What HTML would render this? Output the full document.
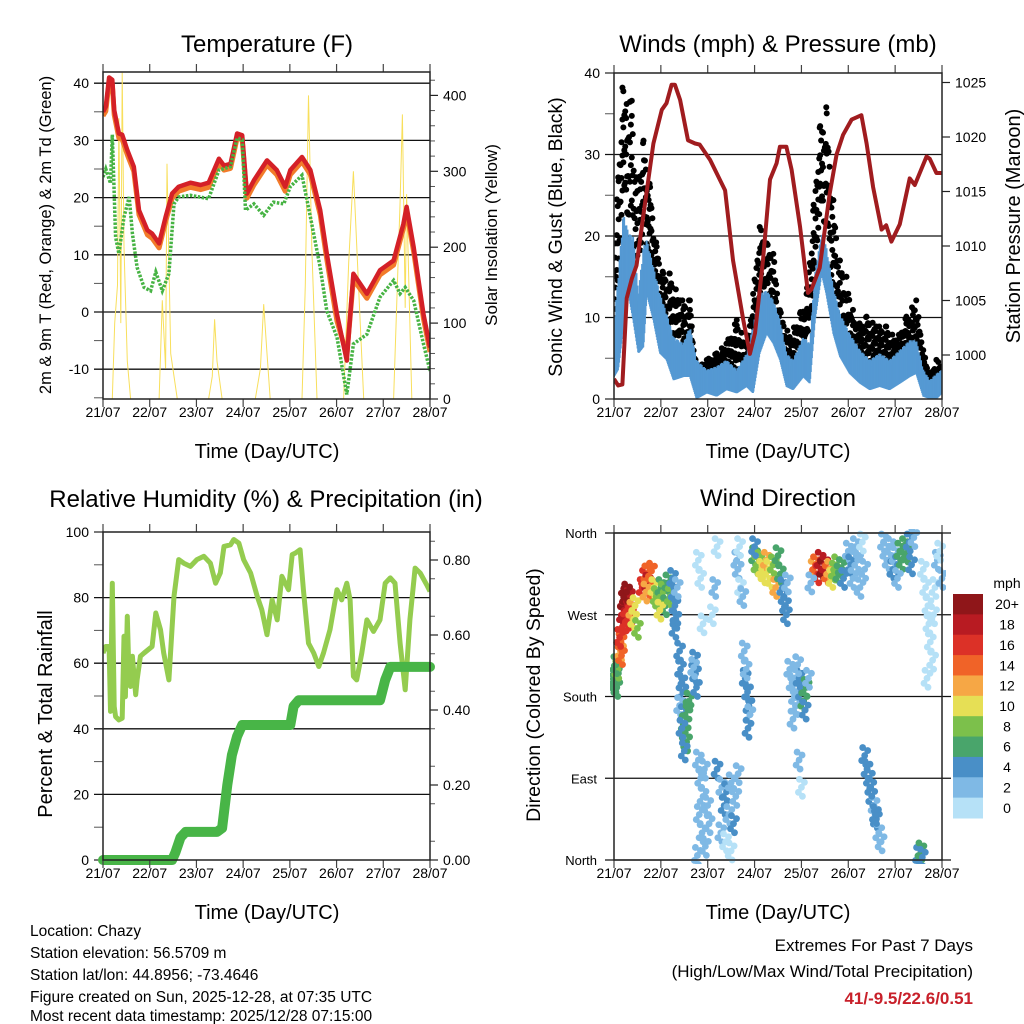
<!DOCTYPE html>
<html><head><meta charset="utf-8"><style>
body{margin:0;background:#fff;}
svg{display:block;font-family:"Liberation Sans",Arial,sans-serif;}
</style></head><body>
<svg id="s" width="1024" height="1024" viewBox="0 0 1024 1024" xmlns="http://www.w3.org/2000/svg">
<defs>
<clipPath id="c1"><rect x="103" y="72" width="327" height="327"/></clipPath>
<clipPath id="c2"><rect x="614" y="73" width="328" height="326"/></clipPath>
<clipPath id="c3"><rect x="103" y="532" width="327" height="328"/></clipPath>
<clipPath id="c4"><rect x="610" y="529" width="336" height="335"/></clipPath>
</defs>
<g id="g1"></g>
<g id="g2"></g>
<g id="g3"></g>
<g id="g4"></g>
<g id="gt">
<text x="267" y="52" font-size="24" text-anchor="middle">Temperature (F)</text>
<text x="778" y="52" font-size="24" text-anchor="middle">Winds (mph) &amp; Pressure (mb)</text>
<text x="266" y="507" font-size="24" text-anchor="middle">Relative Humidity (%) &amp; Precipitation (in)</text>
<text x="778" y="506" font-size="24" text-anchor="middle">Wind Direction</text>
<text transform="translate(51,235) rotate(-90)" font-size="16.5" text-anchor="middle">2m &amp; 9m T (Red, Orange) &amp; 2m Td (Green)</text>
<text transform="translate(497,235) rotate(-90)" font-size="17" text-anchor="middle">Solar Insolation (Yellow)</text>
<text transform="translate(562,237) rotate(-90)" font-size="19.5" text-anchor="middle">Sonic Wind &amp; Gust (Blue, Black)</text>
<text transform="translate(1020,226) rotate(-90)" font-size="20" text-anchor="middle">Station Pressure (Maroon)</text>
<text transform="translate(52,714) rotate(-90)" font-size="20" text-anchor="middle">Percent &amp; Total Rainfall</text>
<text transform="translate(540,695) rotate(-90)" font-size="19.5" text-anchor="middle">Direction (Colored By Speed)</text>
<text x="267" y="458" font-size="20" text-anchor="middle">Time (Day/UTC)</text>
<text x="778" y="458" font-size="20" text-anchor="middle">Time (Day/UTC)</text>
<text x="267" y="919" font-size="20" text-anchor="middle">Time (Day/UTC)</text>
<text x="778" y="919" font-size="20" text-anchor="middle">Time (Day/UTC)</text>
<g font-size="15.5">
<text x="30" y="936">Location: Chazy</text>
<text x="30" y="958">Station elevation: 56.5709 m</text>
<text x="30" y="980">Station lat/lon: 44.8956; -73.4646</text>
<text x="30" y="1002">Figure created on Sun, 2025-12-28, at 07:35 UTC</text>
<text x="30" y="1024" dy="-3">Most recent data timestamp: 2025/12/28 07:15:00</text>
</g>
<text x="973" y="951" font-size="17" text-anchor="end">Extremes For Past 7 Days</text>
<text x="973" y="977" font-size="17" text-anchor="end">(High/Low/Max Wind/Total Precipitation)</text>
<text x="973" y="1004" font-size="17" font-weight="bold" fill="#c8202a" text-anchor="end">41/-9.5/22.6/0.51</text>
</g>
</svg>
<script>
// ---------- Temperature panel data ----------
const tempT=[0,.06,.13,.2,.24,.34,.41,.52,.66,.77,.95,1.05,1.2,1.34,1.48,1.62,1.87,2.09,2.26,2.48,2.59,2.73,2.87,2.98,3.08,3.23,3.51,3.72,3.9,4.01,4.26,4.44,4.65,4.79,5.01,5.22,5.36,5.65,5.93,6.22,6.43,6.5,6.65,6.86,7];
const temp2m=[35,35.9,41,40.6,35.3,31.2,31,28.3,25.4,17.8,14.3,13.7,12,16.6,20.7,21.9,22.6,22.2,22.6,26.8,25.6,25.9,31.2,30.9,20.7,23,26.5,24.8,21.9,24.8,27.1,24.8,17.8,10.2,-0.4,-8.5,6.7,3.2,7.3,9,15.4,18.4,11.3,-0.4,-6.2];
const temp9m=[34.3,35.1,40.2,39.8,34.5,30.4,30.2,27.5,24.6,17,13.5,12.9,11.2,15.8,19.9,21.1,21.8,21.4,21.8,26,24.8,25.1,30.4,30.1,19.9,22.2,25.7,24,21.1,24,26.3,24,17,9.2,-1.6,-7.5,5.7,2.4,6.5,8.2,14.6,17.6,10.5,-1.2,-7];
const dewT=[0,.06,.16,.2,.24,.27,.34,.45,.56,.63,.73,.88,1.02,1.13,1.27,1.41,1.52,1.62,1.87,2.26,2.48,2.73,2.87,2.98,3.05,3.23,3.44,3.65,3.87,4.01,4.26,4.44,4.65,4.79,5.01,5.22,5.36,5.65,5.93,6.22,6.36,6.47,6.65,6.86,7];
const dewV=[23.6,25,22.5,31,20.7,13.1,10.2,16.6,20.1,13.7,7.8,4.3,3.7,7,3.7,6.7,18.9,20.1,20.4,19.8,24.8,25.4,30.4,30.1,17.8,18.9,16.9,19.2,18.9,21.9,23.9,16.6,7.8,0.2,-4.4,-14.4,-5.6,-3.9,2.6,5.5,3.2,4.3,2,-5.6,-10.3];
const solarT=[0,.2,.25,.31,.34,.38,.41,.45,.52,.59,1.2,1.27,1.34,1.37,1.45,1.59,2.26,2.34,2.39,2.44,2.55,3.26,3.37,3.44,3.51,3.58,4.26,4.33,4.4,4.47,4.58,5.15,5.26,5.36,5.47,5.58,6.22,6.36,6.41,6.47,6.5,6.61,7];
const solarV=[0,0,100,150,370,100,430,200,50,0,0,130,40,310,60,0,0,30,105,50,0,0,40,125,60,0,0,150,400,200,0,0,180,300,150,0,0,260,375,120,270,0,0];
const tempTicks=[40,30,20,10,0,-10];
const solarTicks=[0,100,200,300,400];
const dayLabels=["21/07","22/07","23/07","24/07","25/07","26/07","27/07","28/07"];
// ---------- Winds panel data ----------
const windT=[0,.09,.2,.31,.41,.52,.63,.7,.84,.98,1.12,1.27,1.48,1.62,1.76,1.98,2.19,2.4,2.62,2.83,2.97,3.11,3.26,3.4,3.54,3.68,3.82,4.04,4.18,4.29,4.43,4.53,4.68,4.82,5.03,5.25,5.46,5.67,5.88,6.1,6.31,6.45,6.6,6.74,6.88,7];
const windHi=[8.9,15,22.7,20.3,19.9,12.9,18.7,19.5,16.2,12.9,10.5,7.6,6.8,8.9,4.8,3.6,4,4.8,3.6,5.6,8.9,12.9,13.3,12.1,9.7,5.6,4.8,7.6,6.8,15.4,20.3,18.7,13.7,10.5,8,6,4.8,5.6,4.8,6,7.2,7.2,3.6,2.3,3.1,3.6];
const windLo=[2.7,3.6,8.9,12.9,9.7,5.6,6.4,12.9,9.7,5.6,4.8,2.3,2.7,2.7,0,0.7,0.3,1.1,0.7,1.5,0.7,5.6,8,6.8,4.8,1.5,1.1,2.7,1.9,9.7,15.4,12.9,8,5.2,3.1,1.9,1.1,1.5,1.1,1.9,2.7,3.1,0.3,0,0,0.7];
const gustT=[0,.09,.18,.27,.38,.48,.63,.77,.91,1.05,1.19,1.41,1.62,1.76,1.98,2.19,2.4,2.62,2.83,2.97,3.11,3.26,3.4,3.54,3.75,3.97,4.11,4.25,4.39,4.53,4.68,4.82,4.96,5.17,5.39,5.6,5.81,6.03,6.24,6.45,6.6,6.74,6.88,7];
const gustHi=[19.1,27.2,38.2,36.2,36.6,27.2,31.7,26,18.7,15.4,15.4,12.1,12.1,3.6,4.8,5.6,6.8,9.7,6.4,12.9,21.1,19.1,17.8,10.9,7.6,10.5,12.9,23.1,33.3,35.8,24.4,17,15,8.9,10.1,8.9,8.9,7.2,10.1,12.1,6,2.7,4.8,4];
const gustLo=[8.9,12.9,25.2,23.1,21.1,15,21.1,17,12.1,9.7,8.9,6.4,6,1.1,2.3,2.7,3.1,4,2.3,5.6,12.9,12.1,10.5,5.6,3.6,4.8,5.6,12.9,23.1,21.1,12.9,8.9,6.4,4.8,4.8,4.4,4,4,5.6,5.6,2.3,0.7,0.7,1.5];
const presT=[0,.09,.18,.27,.38,.48,.63,.84,1.02,1.12,1.23,1.3,1.41,1.58,1.73,1.83,2.05,2.37,2.54,2.76,2.9,3.01,3.18,3.33,3.47,3.54,3.68,3.79,3.97,4.14,4.21,4.39,4.6,4.75,4.89,5.07,5.28,5.39,5.53,5.71,5.81,5.92,6.1,6.31,6.42,6.67,6.74,6.88,7];
const presV=[997.8,997.2,997.3,1005.2,1007,1008.2,1012.9,1019.4,1022.5,1023.1,1024.8,1024.8,1023.4,1019.7,1019.4,1019.3,1017.9,1015.1,1008.7,1003.2,1000.1,1002,1008.7,1016.1,1017.6,1019.1,1019.1,1017,1011.8,1005.7,1006,1008,1014.7,1018.4,1020.2,1021.6,1022,1019.4,1015.4,1011.5,1011.9,1010.4,1012,1016.2,1015.6,1018.2,1018,1016.7,1016.7];
const windTicks=[0,10,20,30,40];
const presTicks=[1000,1005,1010,1015,1020,1025];
// ---------- Humidity panel data ----------
const rhT=[0,.06,.13,.16,.2,.24,.27,.34,.41,.45,.48,.52,.56,.59,.63,.7,.73,.8,.88,1.05,1.13,1.23,1.3,1.41,1.52,1.62,1.73,1.87,2.01,2.16,2.3,2.41,2.51,2.59,2.73,2.8,2.91,3.01,3.16,3.3,3.4,3.51,3.62,3.73,3.83,3.97,4.05,4.12,4.22,4.29,4.4,4.51,4.62,4.72,4.86,5.01,5.11,5.22,5.29,5.36,5.43,5.54,5.65,5.79,5.93,6.04,6.15,6.25,6.36,6.47,6.57,6.68,6.79,6.93,7];
const rhV=[63.1,65.1,65.1,45.3,84.4,46.8,43.7,42.7,43.2,68.2,49.8,74.3,53.9,52.9,62.1,50.4,54.9,62.1,63.1,65.1,75.3,70.2,63.1,54.9,80.4,91.6,90.5,89.5,91.6,92.6,90.5,84.4,87.5,95.6,96.1,97.7,96.6,91.6,87.5,80.4,76.3,68.7,79.3,73.2,86.5,82.4,93.1,93.6,94.6,82.4,66.1,63.1,59,63.1,70.2,82.4,79.3,84.4,79.3,56,54.9,63.1,73.2,69.7,73.2,84.4,86,84.4,66.1,51.9,73.2,89,87.5,83.9,81.9];
const precipT=[0,1.48,1.55,1.66,1.77,2.44,2.55,2.66,2.76,2.87,2.98,4.01,4.08,4.19,5.93,6.04,6.15,7];
const precipV=[0,0,0.02,0.06,0.075,0.075,0.085,0.2,0.28,0.33,0.36,0.36,0.41,0.426,0.426,0.48,0.515,0.515];
const rhTicks=[0,20,40,60,80,100];
const precipTicks=[0,0.2,0.4,0.6,0.8];
const precipLabels=["0.00","0.20","0.40","0.60","0.80"];
// ---------- Wind direction data ----------
const dirT=[0.02,0.03,0.05,0.06,0.08,0.04,0.14,0.15,0.16,0.12,0.18,0.2,0.22,0.25,0.28,0.3,0.24,0.33,0.35,0.27,0.38,0.42,0.45,0.5,0.6,0.65,0.7,0.72,0.75,0.68,0.8,0.85,0.9,0.95,1.0,1.05,1.1,1.15,0.98,1.2,1.25,1.28,1.3,1.32,1.35,1.3,1.4,1.42,1.45,1.47,1.4,1.48,1.5,1.52,1.55,1.5,1.58,1.6,1.45,1.72,1.74,1.76,1.7,1.8,1.85,1.9,1.82,1.88,1.95,2.0,1.78,1.93,2.03,1.8,1.85,1.9,2.2,2.15,2.1,2.2,2.3,2.35,2.4,2.45,2.5,2.55,2.6,2.28,2.38,2.65,2.5,2.62,2.65,2.7,2.75,2.68,2.8,2.85,2.88,2.9,2.82,2.86,2.78,3.0,3.05,3.1,3.15,3.2,3.25,3.3,3.35,3.4,3.45,3.5,3.55,3.0,3.6,3.63,3.66,3.7,3.68,3.75,3.8,3.85,3.9,3.95,4.0,4.05,4.1,4.08,3.82,3.92,4.15,3.95,4.0,4.25,4.3,4.35,4.4,4.45,4.5,4.55,4.6,4.65,4.7,4.75,4.8,4.85,4.9,4.2,5.0,5.05,5.1,5.15,5.2,5.25,5.3,5.35,5.35,5.4,5.45,5.5,5.55,5.6,5.65,5.7,5.48,5.58,5.75,5.8,5.85,5.9,5.95,6.0,6.05,6.1,6.15,6.2,6.25,6.3,6.35,6.4,6.05,6.6,6.65,6.7,6.72,6.75,6.8,6.85,6.9,6.95,7.0,6.68,6.82,6.5,6.55,6.58];
const dirDeg=[195,200,205,190,210,215,230,240,225,245,270,285,275,290,280,265,262,290,270,295,275,265,280,255,300,310,315,305,300,295,318,300,290,285,300,295,280,305,275,290,310,295,280,265,300,255,230,210,195,185,170,160,150,140,130,120,165,175,145,220,205,190,212,110,90,70,50,30,15,60,5,100,40,330,310,260,345,300,270,100,80,60,75,50,85,40,70,30,20,95,10,330,320,300,290,345,200,185,170,160,210,145,230,335,325,330,320,315,330,320,310,325,300,335,315,345,300,290,280,305,270,210,195,180,170,200,185,175,190,165,155,215,200,110,80,320,325,315,330,320,325,315,320,310,318,325,315,322,310,305,340,325,310,345,330,300,350,320,115,100,90,70,60,45,30,20,80,50,350,340,330,345,320,335,325,340,330,345,338,350,325,355,310,320,300,280,260,240,220,300,330,340,310,200,270,5,10,3];
const dirSpd=[7,7,6,7,8,7,13,15,14,16,19,20,18,20,19,17,16,18,16,20,13,11,10,9,16,17,15,19,14,12,15,10,9,8,7,9,7,6,10,8,4,4,5,4,3,4,4,4,5,4,3,5,6,7,6,5,7,6,4,4,4,4,3,2,2,2,3,2,2,3,2,2,2,1,1,1,1,2,1,4,3,4,4,3,2,4,3,2,1,2,1,2,2,1,2,1,4,4,4,3,3,4,2,6,9,8,10,11,12,10,11,9,12,7,6,5,4,4,4,3,4,2,3,2,3,4,5,6,7,4,3,2,3,2,1,12,15,17,19,20,18,14,12,10,9,8,7,6,5,3,3,4,2,3,2,2,1,2,4,4,5,4,3,4,3,2,4,4,2,3,2,3,4,3,5,6,7,6,6,5,4,3,3,1,0,1,1,1,0,1,2,1,2,1,0,4,6,4];
const dirLabels=["North","East","South","West","North"];
const dirTicks=[0,90,180,270,360];
const spdColors=["#b6e1f7","#7fb9e5","#498fc7","#49a56b","#7cc04b","#e6df55","#f6a745","#f06328","#dc3127","#b81b22","#8f1619"];
const spdLabels=["0","2","4","6","8","10","12","14","16","18","20+"];

const NS="http://www.w3.org/2000/svg";
function mk(parent,tag,attrs){const e=document.createElementNS(NS,tag);for(const k in attrs)e.setAttribute(k,attrs[k]);parent.appendChild(e);return e;}
function line(p,x1,y1,x2,y2,w,c){return mk(p,"line",{x1:x1,y1:y1,x2:x2,y2:y2,stroke:c||"#000","stroke-width":w||1});}
function txt(p,x,y,s,size,anchor){const e=mk(p,"text",{x:x,y:y,"font-size":size,"text-anchor":anchor||"middle"});e.textContent=s;return e;}
function pts(T,V,fx,fy){return T.map((t,i)=>fx(t).toFixed(1)+","+fy(V[i]).toFixed(1)).join(" ");}
function interp(T,V,t){for(let i=1;i<T.length;i++){if(t<=T[i]){const f=(t-T[i-1])/(T[i]-T[i-1]||1);return V[i-1]+f*(V[i]-V[i-1]);}}return V[V.length-1];}

function frame(g,x0,x1,y0,y1,fx,labY){
  for(let d=0;d<=7;d++){const x=fx(d);
    line(g,x,y0-8,x,y0,1.2,"#444");line(g,x,y1,x,y1+8,1.2,"#444");
    const t=txt(g,x,labY,dayLabels[d],14);
    
    }
  mk(g,"rect",{x:x0,y:y0,width:x1-x0,height:y1-y0,fill:"none",stroke:"#222","stroke-width":1.5});
}

// ===== Panel 1 =====
(function(){
  const g=document.getElementById("g1");
  const X0=103,X1=430,Y0=72,Y1=399;
  const fx=d=>X0+d*(X1-X0)/7, fy=v=>312-v*5.72, fr=v=>399-v*0.759;
  tempTicks.forEach(v=>{line(g,X0-9,fy(v),X1,fy(v),1.3,"#111");const t=txt(g,X0-14,fy(v)+5,String(v),14,"end");
    });
  for(let v=-15;v<=40;v+=5){if(v%10)line(g,X0-9,fy(v),X0,fy(v),1,"#555");}
  solarTicks.forEach(v=>{line(g,X1,fr(v),X1+8,fr(v),1.2,"#222");const t=txt(g,X1+13,fr(v)+5,String(v),14,"start");
    });
  for(let v=20;v<=420;v+=20){if(v%100)line(g,X1,fr(v),X1+5,fr(v),1,"#555");}
  const c=mk(g,"g",{"clip-path":"url(#c1)"});
  const sol=mk(c,"polyline",{points:pts(solarT,solarV,fx,fr),fill:"none",stroke:"#f8df5c","stroke-width":1});
  
  const o=mk(c,"polyline",{points:pts(tempT,temp9m,fx,fy),fill:"none",stroke:"#f27b2a","stroke-width":5,"stroke-linejoin":"round"});
  
  const r=mk(c,"polyline",{points:pts(tempT,temp2m,fx,fy),fill:"none",stroke:"#d42027","stroke-width":4.5,"stroke-linejoin":"round"});
  
  const dw=mk(c,"polyline",{points:pts(dewT,dewV,fx,fy),fill:"none",stroke:"#46b343","stroke-width":3.5,"stroke-dasharray":"2.5 1.5"});
  
  frame(g,X0,X1,Y0,Y1,fx,417);
})();

// ===== Panel 2 =====
(function(){
  const g=document.getElementById("g2");
  const X0=614,X1=942,Y0=73,Y1=399;
  const fx=d=>X0+d*(X1-X0)/7, fy=v=>399-v*8.15, fp=p=>355-(p-1000)*10.9;
  windTicks.forEach(v=>{if(v>0&&v<40)line(g,X0-9,fy(v),X1,fy(v),1.3,"#111");else line(g,X0-9,fy(v),X0,fy(v),1.2,"#222");
    const t=txt(g,X0-14,fy(v)+5,String(v),14,"end");});
  for(let v=5;v<40;v+=10)line(g,X0-9,fy(v),X0,fy(v),1,"#555");
  presTicks.forEach(v=>{line(g,X1,fp(v),X1+8,fp(v),1.2,"#222");const t=txt(g,X1+13,fp(v)+5,String(v),14,"start");
    });
  const c=mk(g,"g",{"clip-path":"url(#c2)"});
  const fr=[0,0.35,0.7,1,0.15,0.55,0.85];
  let k=0;
  for(let t=0;t<=7.001;t+=0.02){
    const hi=interp(gustT,gustHi,t), lo=interp(gustT,gustLo,t);
    const f=fr[k%fr.length]; k++;
    [f,(f+0.33)%1,(f+0.66)%1].forEach(q=>{
      const d=mk(c,"circle",{cx:fx(t),cy:fy(lo+(hi-lo)*q),r:3,fill:"#000"});
      });
  }
  gustT.forEach((t,i)=>{const d=mk(c,"circle",{cx:fx(t),cy:fy(gustHi[i]),r:3,fill:"#000"});
    });
  const wg=mk(c,"g",{stroke:"#5599d3","stroke-width":2});
  
  let j=0;
  for(let t=0;t<=7.001;t+=0.012){
    const hi=interp(windT,windHi,t), lo=interp(windT,windLo,t);
    const f=[1,0.85,0.95,0.75,1,0.9][j%6]; j++;
    line(wg,fx(t),fy(lo),fx(t),fy(lo+(hi-lo)*f),2,"#5599d3");
  }
  const pl=mk(c,"polyline",{points:pts(presT,presV,fx,fp),fill:"none",stroke:"#a01c1f","stroke-width":4,"stroke-linejoin":"round"});
  
  frame(g,X0,X1,Y0,Y1,fx,417);
})();

// ===== Panel 3 =====
(function(){
  const g=document.getElementById("g3");
  const X0=103,X1=430,Y0=532,Y1=860;
  const fx=d=>X0+d*(X1-X0)/7, fy=v=>860-v*3.28, fp=p=>860-p*375;
  rhTicks.forEach(v=>{if(v>0&&v<100)line(g,X0-9,fy(v),X1,fy(v),1.3,"#111");else line(g,X0-9,fy(v),X0,fy(v),1.2,"#222");
    const t=txt(g,X0-14,fy(v)+5,String(v),14,"end");});
  for(let v=10;v<100;v+=20)line(g,X0-9,fy(v),X0,fy(v),1,"#555");
  precipTicks.forEach((v,i)=>{line(g,X1,fp(v),X1+8,fp(v),1.2,"#222");const t=txt(g,X1+13,fp(v)+5,precipLabels[i],14,"start");
    });
  for(let v=0.05;v<0.9;v+=0.1)line(g,X1,fp(v),X1+5,fp(v),1,"#555");
  const c=mk(g,"g",{"clip-path":"url(#c3)"});
  const rh=mk(c,"polyline",{points:pts(rhT,rhV,fx,fy),fill:"none",stroke:"#94cc4f","stroke-width":5,"stroke-linejoin":"round"});
  
  const pr=mk(g,"polyline",{points:pts(precipT,precipV,fx,fp),fill:"none",stroke:"#48b547","stroke-width":10,"stroke-linejoin":"round","stroke-linecap":"round"});
  
  frame(g,X0,X1,Y0,Y1,fx,878);
})();

// ===== Panel 4 =====
(function(){
  const g=document.getElementById("g4");
  const X0=614,X1=942,Y0=533,Y1=860;
  const fx=d=>X0+d*(X1-X0)/7, fy=v=>860-v*327/360;
  dirTicks.forEach((v,i)=>{line(g,X0-9,fy(v),X1+9,fy(v),1.3,"#111");
    const t=txt(g,X0-17,fy(v)+5,dirLabels[i],13,"end");});
  const c=mk(g,"g",{"clip-path":"url(#c4)"});
  const off=[[0,0],[-3,5],[3,-5],[1,9],[-2,-8]];
  dirT.forEach((t,i)=>{const ci=Math.min(10,Math.floor(dirSpd[i]/2));
    off.forEach(o=>{
      const d=mk(c,"circle",{cx:fx(t)+o[0],cy:fy(dirDeg[i])+o[1],r:3.4,fill:spdColors[ci]});
      });});
  frame(g,X0,X1,Y0,Y1,fx,878);
  const cb=mk(g,"g",{});
  
  const t0=txt(cb,1007,588,"mph",14);
  const bh=(818-594)/11;
  for(let k=0;k<11;k++){const idx=10-k;const y=594+k*bh;
    const r=mk(cb,"rect",{x:953,y:y,width:30,height:bh+0.5,fill:spdColors[idx]});
    
    const t=txt(cb,1007,y+bh/2+5,spdLabels[idx],14);}
})();
</script>
</body></html>
